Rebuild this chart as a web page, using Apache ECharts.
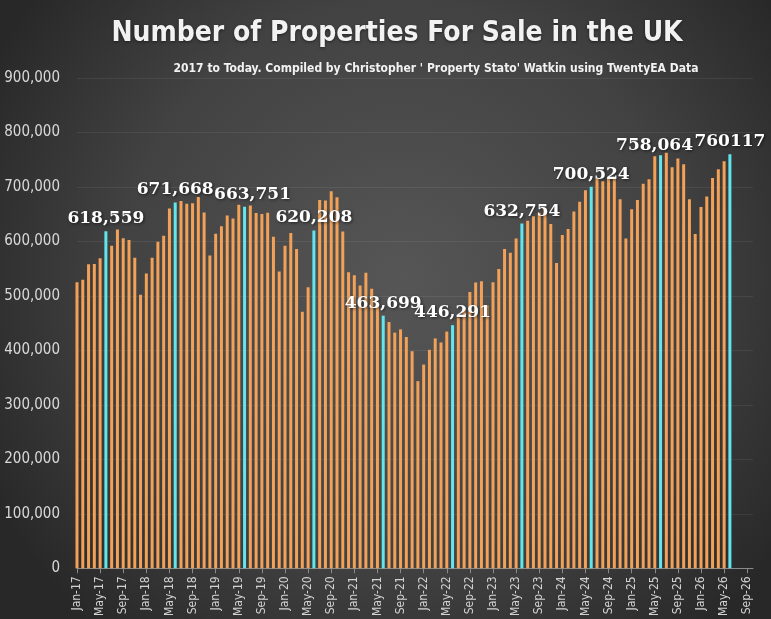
<!DOCTYPE html>
<html>
<head>
<meta charset="utf-8">
<script src="https://cdn.jsdelivr.net/npm/echarts@6/dist/echarts.min.js"></script>
<style>
html,body{margin:0;padding:0;background:#3a3a3a;}
#chart{width:771px;height:619px;}
</style>
</head>
<body>
<div id="chart"></div>
<script>
const categories = [
 'Jan-17','Feb-17','Mar-17','Apr-17','May-17','Jun-17','Jul-17','Aug-17','Sep-17','Oct-17','Nov-17','Dec-17',
 'Jan-18','Feb-18','Mar-18','Apr-18','May-18','Jun-18','Jul-18','Aug-18','Sep-18','Oct-18','Nov-18','Dec-18',
 'Jan-19','Feb-19','Mar-19','Apr-19','May-19','Jun-19','Jul-19','Aug-19','Sep-19','Oct-19','Nov-19','Dec-19',
 'Jan-20','Feb-20','Mar-20','Apr-20','May-20','Jun-20','Jul-20','Aug-20','Sep-20','Oct-20','Nov-20','Dec-20',
 'Jan-21','Feb-21','Mar-21','Apr-21','May-21','Jun-21','Jul-21','Aug-21','Sep-21','Oct-21','Nov-21','Dec-21',
 'Jan-22','Feb-22','Mar-22','Apr-22','May-22','Jun-22','Jul-22','Aug-22','Sep-22','Oct-22','Nov-22','Dec-22',
 'Jan-23','Feb-23','Mar-23','Apr-23','May-23','Jun-23','Jul-23','Aug-23','Sep-23','Oct-23','Nov-23','Dec-23',
 'Jan-24','Feb-24','Mar-24','Apr-24','May-24','Jun-24','Jul-24','Aug-24','Sep-24','Oct-24','Nov-24','Dec-24',
 'Jan-25','Feb-25','Mar-25','Apr-25','May-25','Jun-25','Jul-25','Aug-25','Sep-25','Oct-25','Nov-25','Dec-25',
 'Jan-26','Feb-26','Mar-26','Apr-26','May-26','Jun-26','Jul-26','Aug-26','Sep-26','Oct-26'
];

const propertiesForSale = [
 525000,529500,558000,558500,569000,618559,592000,622000,606000,602500,570000,502000,
 541000,570000,599500,610500,660500,671668,674000,669000,670000,681500,653000,574000,
 614000,628000,647500,642000,667500,663751,666000,652000,650500,652500,608500,545000,
 592000,615500,586000,471000,516000,620208,676000,675000,692000,681000,618000,543500,
 538000,519000,542500,513000,482000,463699,452000,432500,438500,424500,398500,343500,
 374000,401000,422000,414500,434500,446291,460000,478000,507000,524500,527000,482500,
 525000,549500,586000,579000,605500,632754,638000,646000,652000,662000,632000,560500,
 612000,623000,655000,673000,694000,700524,715500,710500,716000,717500,677500,605500,
 659000,676000,706000,714000,756500,758064,763000,736000,752000,741500,677500,613500,
 663000,682500,716500,732500,747000,760117
];

// highlighted (June) bars and their label texts
const highlightMonths = ['Jun-17','Jun-18','Jun-19','Jun-20','Jun-21','Jun-22','Jun-23','Jun-24','Jun-25','Jun-26'];
const highlightLabels = ['618,559','671,668','663,751','620,208','463,699','446,291','632,754','700,524','758,064','760117'];
const labelShift = {'Jun-19':[8,0],'Jun-25':[-6,3]};

const yTicks = [0,100000,200000,300000,400000,500000,600000,700000,800000,900000];

const ORANGE = '#F2A157';
const CYAN = '#62E6EC';

const seriesData = propertiesForSale.map((v, i) => {
  const cat = categories[i];
  const h = highlightMonths.indexOf(cat);
  if (h < 0) return { value: v };
  const sh = labelShift[cat] || [0,0];
  return {
    value: v,
    itemStyle: { color: CYAN },
    label: {
      show: true,
      position: 'top',
      distance: 4,
      offset: sh,
      formatter: highlightLabels[h],
      color: '#ffffff',
      fontFamily: "'DejaVu Serif', serif",
      fontWeight: 'bold',
      fontSize: 17,
      textShadowColor: 'rgba(0,0,0,0.6)',
      textShadowBlur: 3,
      textShadowOffsetX: 1,
      textShadowOffsetY: 1
    }
  };
});

const condensed = "'DejaVu Sans Condensed', 'Roboto', sans-serif";

const chart = echarts.init(document.getElementById('chart'), null, { renderer: 'canvas' });
chart.setOption({
  animation: false,
  backgroundColor: {
    type: 'radial', x: 0.52, y: 0.45, r: 0.75,
    colorStops: [
      { offset: 0, color: '#565656' },
      { offset: 0.6, color: '#424242' },
      { offset: 1, color: '#282828' }
    ]
  },
  title: [
    {
      text: 'Number of Properties For Sale in the UK',
      left: 392, top: 15, textAlign: 'center',
      textStyle: {
        color: '#f2f2f2', fontSize: 28, fontWeight: 'bold',
        fontFamily: condensed,
        textShadowColor: 'rgba(0,0,0,0.5)', textShadowBlur: 3, textShadowOffsetY: 1
      }
    },
    {
      text: "2017 to Today. Compiled by Christopher ' Property Stato' Watkin using TwentyEA Data",
      left: 431, top: 58, textAlign: 'center',
      textStyle: {
        color: '#f2f2f2', fontSize: 12, fontWeight: 'bold',
        fontFamily: condensed
      }
    }
  ],
  grid: { left: 77, right: 18, top: 78, bottom: 48.5, containLabel: false },
  xAxis: {
    type: 'category',
    data: categories,
    boundaryGap: false,
    axisLine: { show: true, lineStyle: { color: '#8a8a8a', width: 1 } },
    axisTick: { show: true, interval: 3, length: 5, lineStyle: { color: '#8a8a8a' } },
    axisLabel: {
      interval: 3, rotate: 90, margin: 8,
      color: '#d2d2d2', fontSize: 12, fontFamily: condensed
    },
    splitLine: { show: false }
  },
  yAxis: {
    type: 'value',
    min: yTicks[0], max: yTicks[yTicks.length - 1], interval: yTicks[1] - yTicks[0],
    axisLine: { show: false },
    axisTick: { show: false },
    axisLabel: {
      margin: 17, color: '#d9d9d9', fontSize: 15, fontFamily: condensed,
      formatter: v => v.toLocaleString('en-US')
    },
    splitLine: { show: true, lineStyle: { color: 'rgba(255,255,255,0.07)', width: 1 } }
  },
  series: [{
    type: 'bar',
    data: seriesData,
    barWidth: 3,
    itemStyle: { color: ORANGE },
    label: { show: false }
  }]
});
</script>
</body>
</html>
